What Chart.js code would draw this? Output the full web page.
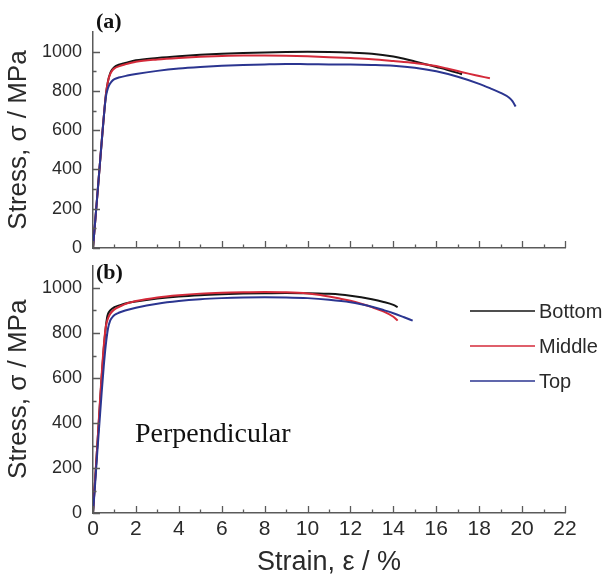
<!DOCTYPE html>
<html>
<head>
<meta charset="utf-8">
<script src="https://cdn.jsdelivr.net/npm/chart.js@4.4.0/dist/chart.umd.min.js"></script>
<style>
  html, body { margin: 0; padding: 0; background: #fff; }
  #wrap { position: relative; width: 605px; height: 577px; }
  #chartA { position: absolute; left: 0; top: 0; }
  #chartB { position: absolute; left: 0; top: 260px; }
</style>
</head>
<body>
<div id="wrap">
  <canvas id="chartA" width="605" height="260"></canvas>
  <canvas id="chartB" width="605" height="317"></canvas>
</div>
<script>
// tick values / labels
const xTickValues = [0, 1, 2, 3, 4, 5, 6, 7, 8, 9, 10, 11, 12, 13, 14, 15, 16, 17, 18, 19, 20, 21, 22];
const xTickLabels = [0, 2, 4, 6, 8, 10, 12, 14, 16, 18, 20, 22];
const yTickValues = [0, 100, 200, 300, 400, 500, 600, 700, 800, 900, 1000];
const yTickLabels = [0, 200, 400, 600, 800, 1000];

const seriesNames = ["Bottom", "Middle", "Top"];

// (a) panel
const strainBottomA = [0, 0.15, 0.3, 0.45, 0.6, 0.7, 0.8, 0.9, 1.0, 1.2, 1.5, 2, 3, 4, 5, 6, 7, 8, 9, 10, 11, 12, 13, 14, 14.5, 15, 15.5, 16, 16.5, 17, 17.2];
const stressBottomA = [0, 200, 400, 600, 780, 850, 890, 910, 922, 933, 942, 956, 968, 977, 984, 989, 993, 996, 998, 999, 998, 995, 989, 975, 964, 950, 936, 922, 908, 892, 885];

const strainMiddleA = [0, 0.15, 0.3, 0.45, 0.6, 0.7, 0.8, 0.9, 1.0, 1.2, 1.5, 2, 3, 4, 5, 6, 7, 8, 9, 10, 11, 12, 13, 14, 15, 16, 16.5, 17, 17.5, 18, 18.5];
const stressMiddleA = [0, 200, 400, 600, 780, 850, 885, 905, 915, 925, 935, 948, 960, 968, 974, 978, 980, 980, 979, 976, 972, 967, 961, 952, 942, 927, 914, 901, 888, 876, 864];

const strainTopA = [0, 0.15, 0.3, 0.45, 0.6, 0.7, 0.8, 0.9, 1.0, 1.2, 1.6, 2, 3, 4, 5, 6, 7, 8, 9, 10, 11, 12, 13, 14, 15, 16, 17, 18, 18.5, 19, 19.4, 19.55, 19.7];
const stressTopA = [0, 200, 400, 600, 770, 815, 838, 852, 860, 868, 878, 886, 902, 914, 922, 928, 932, 935, 937, 936, 935, 934, 932, 928, 918, 900, 872, 836, 814, 790, 765, 748, 720];

// (b) panel
const strainBottomB = [0, 0.1, 0.2, 0.3, 0.4, 0.5, 0.6, 0.65, 0.7, 0.8, 1.0, 1.3, 1.6, 2, 3, 4, 5, 6, 7, 8, 9, 10, 10.5, 11, 11.5, 12, 12.5, 13, 13.5, 14, 14.2];
const stressBottomB = [0, 150, 300, 450, 600, 730, 830, 865, 885, 900, 915, 925, 933, 940, 953, 962, 968, 972, 975, 977, 978, 977, 976, 974, 971, 966, 959, 950, 939, 925, 915];

const strainMiddleB = [0, 0.1, 0.2, 0.3, 0.4, 0.5, 0.6, 0.7, 0.8, 1.0, 1.3, 1.6, 2, 3, 4, 5, 6, 7, 8, 9, 10, 10.5, 11, 11.5, 12, 12.5, 13, 13.5, 14, 14.2];
const stressMiddleB = [0, 150, 300, 460, 610, 740, 830, 865, 885, 905, 920, 932, 942, 958, 968, 975, 979, 981, 982, 981, 976, 970, 962, 953, 943, 930, 915, 897, 872, 855];

const strainTopB = [0, 0.1, 0.2, 0.3, 0.4, 0.5, 0.6, 0.7, 0.8, 0.9, 1.0, 1.2, 1.5, 2, 3, 4, 5, 6, 7, 8, 9, 10, 11, 12, 12.5, 13, 13.5, 14, 14.5, 14.9];
const stressTopB = [0, 130, 270, 400, 530, 650, 750, 820, 855, 870, 880, 890, 900, 912, 930, 942, 950, 955, 958, 959, 958, 955, 948, 937, 928, 917, 903, 888, 870, 855];

const colors = ["#151515", "#d42a3a", "#2b3590"];
const axisColor = "#5a5a5a";
const textColor = "#2a2a2a";
const sans = "'Liberation Sans', Arial, sans-serif";
const serif = "'Liberation Serif', 'Times New Roman', serif";

function pts(xs, ys) {
  return xs.map((x, i) => ({ x: x, y: ys[i] }));
}

function makeDatasets(sets) {
  return sets.map((s, i) => ({
    label: seriesNames[i],
    data: pts(s[0], s[1]),
    borderColor: colors[i],
    borderWidth: 2,
    pointRadius: 0,
    fill: false,
    order: 2 - i, // blue on top, black underneath
    cubicInterpolationMode: "monotone",
  }));
}

// inward tick marks on the left and bottom axes
const tickMarks = {
  id: "tickMarks",
  afterDraw(chart) {
    const ctx = chart.ctx;
    const xs = chart.scales.x, ys = chart.scales.y;
    const area = chart.chartArea;
    ctx.save();
    ctx.strokeStyle = axisColor;
    ctx.lineWidth = 1.3;
    ctx.beginPath();
    xTickValues.forEach((v) => {
      const px = Math.round(xs.getPixelForValue(v)) + 0.5;
      const len = xTickLabels.includes(v) ? 7 : 3.5;
      ctx.moveTo(px, area.bottom);
      ctx.lineTo(px, area.bottom - len);
    });
    yTickValues.forEach((v) => {
      const py = Math.round(ys.getPixelForValue(v)) + 0.5;
      const len = yTickLabels.includes(v) ? 7 : 3.5;
      ctx.moveTo(area.left, py);
      ctx.lineTo(area.left + len, py);
    });
    ctx.stroke();
    ctx.restore();
  },
};

// free text on the canvas (panel letters etc.)
const notes = {
  id: "notes",
  afterDraw(chart, args, opts) {
    const ctx = chart.ctx;
    ctx.save();
    (opts.items || []).forEach((it) => {
      ctx.font = it.font;
      ctx.fillStyle = it.color || "#111";
      ctx.textAlign = "left";
      ctx.textBaseline = "alphabetic";
      ctx.fillText(it.text, it.x, it.y);
    });
    ctx.restore();
  },
};

// legend drawn at a fixed spot like the original
const sideLegend = {
  id: "sideLegend",
  afterDraw(chart, args, opts) {
    if (!opts.show) return;
    const ctx = chart.ctx;
    ctx.save();
    chart.data.datasets.forEach((ds, i) => {
      const y = opts.top + i * opts.gap;
      ctx.strokeStyle = ds.borderColor;
      ctx.lineWidth = 1.6;
      ctx.beginPath();
      ctx.moveTo(opts.x1, y);
      ctx.lineTo(opts.x2, y);
      ctx.stroke();
      ctx.font = "20px " + sans;
      ctx.fillStyle = textColor;
      ctx.textAlign = "left";
      ctx.textBaseline = "middle";
      ctx.fillText(ds.label, opts.x2 + 4, y + 1);
    });
    ctx.restore();
  },
};

function yScale() {
  return {
    type: "linear",
    min: 0,
    max: 1100,
    afterFit: (s) => { s.width = 93; s.paddingTop = 0; s.paddingBottom = 0; },
    grid: { display: false, drawTicks: false },
    border: { display: true, color: axisColor, width: 1.5 },
    ticks: {
      stepSize: 100,
      autoSkip: false,
      padding: 11,
      color: textColor,
      font: { family: sans, size: 18 },
      callback: (v) => (yTickLabels.includes(v) ? String(v) : ""),
    },
    title: {
      display: true,
      text: "Stress, σ / MPa",
      color: textColor,
      font: { family: sans, size: 26, lineHeight: 1.2 },
      padding: { top: 3, bottom: 0 },
    },
  };
}

function makeChart(id, datasets, isBottom) {
  return new Chart(document.getElementById(id), {
    type: "line",
    data: { datasets: datasets },
    plugins: [tickMarks, notes, sideLegend],
    options: {
      responsive: false,
      animation: false,
      layout: { padding: { top: isBottom ? 5.5 : 32, right: 40, left: 0, bottom: 0 } },
      plugins: {
        legend: { display: false },
        tooltip: { enabled: false },
        notes: {
          items: isBottom
            ? [
                { text: "(b)", x: 96, y: 19, font: "bold 22px " + serif },
                { text: "Perpendicular", x: 135, y: 182, font: "28px " + serif },
              ]
            : [{ text: "(a)", x: 96, y: 28, font: "bold 22px " + serif }],
        },
        sideLegend: { show: isBottom, x1: 470, x2: 535, top: 51, gap: 35 },
      },
      scales: {
        x: {
          type: "linear",
          min: 0,
          max: 22,
          afterFit: (s) => { s.height = isBottom ? 64 : 12; s.paddingLeft = 0; s.paddingRight = 0; },
          grid: { display: false, drawTicks: false },
          border: { display: true, color: axisColor, width: 1.5 },
          ticks: {
            display: isBottom,
            stepSize: 1,
            autoSkip: false,
            maxRotation: 0,
            padding: 4,
            color: textColor,
            font: { family: sans, size: 21 },
            callback: (v) => (xTickLabels.includes(v) ? String(v) : ""),
          },
          title: {
            display: isBottom,
            text: "Strain, ε / %",
            color: textColor,
            font: { family: sans, size: 27, lineHeight: 1.1 },
            padding: { top: 0, bottom: 0 },
          },
        },
        y: yScale(),
      },
    },
  });
}

makeChart("chartA", makeDatasets([
  [strainBottomA, stressBottomA],
  [strainMiddleA, stressMiddleA],
  [strainTopA, stressTopA],
]), false);

makeChart("chartB", makeDatasets([
  [strainBottomB, stressBottomB],
  [strainMiddleB, stressMiddleB],
  [strainTopB, stressTopB],
]), true);
</script>
</body>
</html>
